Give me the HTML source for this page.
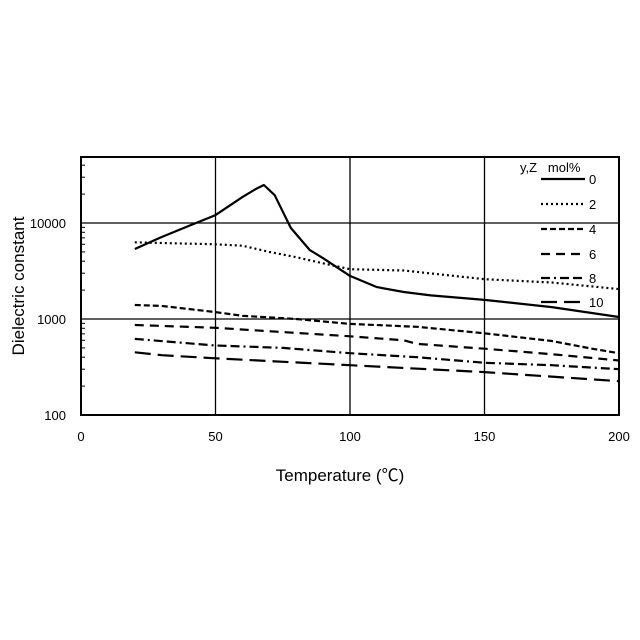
<!DOCTYPE html>
<html><head><meta charset="utf-8"><style>
body{margin:0;background:#fff;}
svg{display:block;font-family:"Liberation Sans","Noto Sans CJK JP",sans-serif;}
</style></head><body>
<svg id="chart" width="640" height="640">
<rect width="640" height="640" fill="#fff"/>
<g id="grid"></g>
<g id="series"></g>
<rect x="81" y="157" width="538" height="258" fill="none" stroke="#000" stroke-width="2"/>
<g id="ticks"></g>
<text x="340" y="481" font-size="17" text-anchor="middle">Temperature (℃)</text>
<text x="24" y="286" font-size="17" text-anchor="middle" transform="rotate(-90 24 286)">Dielectric constant</text>
<g id="legend">
<text x="520" y="172" font-size="13">y,Z&#160;&#160;&#160;mol%</text>
</g>
</svg>
<script>
const categories = ["0","2","4","6","8","10"];
const temps0 = [20,30,40,50,60,65,68,72,78,85,90,100,110,120,130,150,175,200];
const vals0 = [5360,7140,9300,12100,18600,22600,24900,19500,8900,5250,4300,2810,2150,1910,1760,1580,1330,1050];
const temps2 = [20,50,60,70,80,90,100,120,150,175,200];
const vals2 = [6300,6000,5800,5000,4400,3800,3300,3200,2600,2400,2050];
const temps4 = [20,30,50,60,80,100,125,150,175,190,200];
const vals4 = [1400,1370,1180,1080,1000,890,830,710,590,490,440];
const temps6 = [20,50,75,100,120,125,150,175,200];
const vals6 = [866,810,730,660,600,550,490,430,370];
const temps8 = [20,50,75,100,125,150,175,200];
const vals8 = [620,530,500,440,400,350,330,300];
const temps10 = [20,30,50,100,150,200];
const vals10 = [450,420,390,330,280,225];
const xTicks = [0,50,100,150,200];
const yTicks = [100,1000,10000];

const NS="http://www.w3.org/2000/svg";
const X0=81,X1=619,Y0=415;
function xs(t){return X0+(t-0)/200*(X1-X0);}
function ys(v){return Y0-96*(Math.log10(v)-2);}
function mk(tag,attrs,parent){const e=document.createElementNS(NS,tag);for(const k in attrs)e.setAttribute(k,attrs[k]);parent.appendChild(e);return e;}

const grid=document.getElementById('grid'),ticks=document.getElementById('ticks');
xTicks.forEach(t=>{
  if(t>0&&t<200){const l=mk('line',{x1:xs(t),x2:xs(t),y1:157,y2:415,stroke:'#000','stroke-width':1.3},grid);
  
  }
  const tx=mk('text',{x:xs(t),y:441,'font-size':13,'text-anchor':'middle'},ticks);tx.textContent=t;
  
  
});
yTicks.forEach(v=>{
  if(v>100){const l=mk('line',{x1:81,x2:619,y1:ys(v),y2:ys(v),stroke:'#000','stroke-width':1.3},grid);
  
  }
  const tx=mk('text',{x:66,y:ys(v)+5,'font-size':13,'text-anchor':'end'},ticks);tx.textContent=v;
  
  
});
for(let d=100;d<100000;d*=10){for(let m=2;m<=9;m++){const v=d*m;const y=ys(v);if(y<158)continue;
  const l=mk('line',{x1:81,x2:85,y1:y,y2:y,stroke:'#000','stroke-width':1},ticks);
  
  }}

const allT=[temps0,temps2,temps4,temps6,temps8,temps10];
const allV=[vals0,vals2,vals4,vals6,vals8,vals10];
const dashes=['none','2 3','6 3','9 6','9 4 2 4 9 4','16 7'];
const widths=[2.2,2.2,2.2,2.2,2.2,2.2];
const sg=document.getElementById('series'),lg=document.getElementById('legend');
const legY=[179,204,229,254,278,302];
categories.forEach((c,i)=>{
  let d='';allT[i].forEach((t,j)=>{d+=(j?'L':'M')+xs(t).toFixed(1)+' '+ys(allV[i][j]).toFixed(1);});
  const p=mk('path',{d:d,fill:'none',stroke:'#000','stroke-width':widths[i],'stroke-dasharray':dashes[i],'stroke-linejoin':'round'},sg);
  
  
  const l=mk('line',{x1:541,x2:585,y1:legY[i],y2:legY[i],stroke:'#000','stroke-width':2.2,'stroke-dasharray':dashes[i]},lg);
  
  
  const tx=mk('text',{x:589,y:legY[i]+5,'font-size':13},lg);tx.textContent=c;
  
  
});
</script>
</body></html>
